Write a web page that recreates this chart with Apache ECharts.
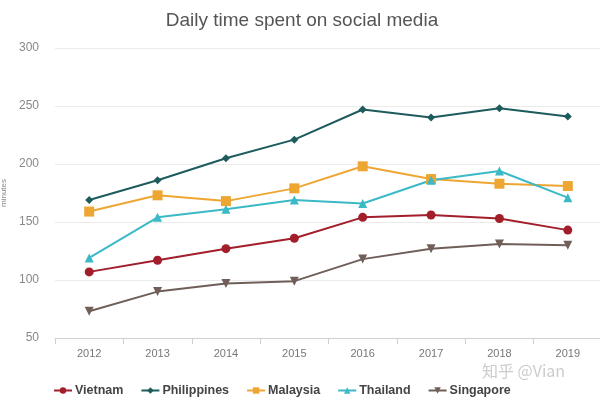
<!DOCTYPE html>
<html><head><meta charset="utf-8">
<script src="https://cdn.jsdelivr.net/npm/echarts@6/dist/echarts.min.js"></script>
<style>html,body{margin:0;padding:0;background:#fff}#c{width:600px;height:400px}</style>
</head><body><div id="c"></div>
<script>
var years = ['2012','2013','2014','2015','2016','2017','2018','2019'];
var vietnam     = [107,117,127,136,154,156,153,143];
var philippines = [169,186,205,221,247,240,248,241];
var malaysia    = [159,173,168,179,198,187,183,181];
var thailand    = [119,154,161,169,166,186,194,171];
var singapore   = [73,90,97,99,118,127,131,130];
var yTicks = [50,100,150,200,250,300];

var chart = echarts.init(document.getElementById('c'));
function mk(name, data, color, symbol, size, rotate){
  return {name:name, type:'line', data:data, symbol:symbol, symbolSize:size, symbolRotate:rotate||0,
    lineStyle:{color:color,width:2}, itemStyle:{color:color}, z:3};
}
chart.setOption({
  animation:false,
  title:{text:'Daily time spent on social media', left:297, top:6, textAlign:'center',
    textStyle:{fontFamily:'Liberation Sans, Arial', fontSize:19, fontWeight:'normal', color:'#555'}},
  grid:{left:55, top:48, width:547, bottom:62, containLabel:false, outerBoundsMode:'none'},
  legend:{top:379, left:48, itemGap:17, itemWidth:18, itemHeight:8,
    textStyle:{fontFamily:'Liberation Sans, Arial', fontSize:12.5, fontWeight:'bold', color:'#444', padding:[0,0,0,-2]},
    data:['Vietnam','Philippines','Malaysia','Thailand','Singapore']},
  xAxis:{type:'category', data:years, boundaryGap:true,
    axisLine:{lineStyle:{color:'#d0d0d0'}},
    axisTick:{show:true, length:6, lineStyle:{color:'#d0d0d0'}},
    axisLabel:{color:'#777', fontSize:11, fontFamily:'Liberation Sans, Arial', margin:10}},
  yAxis:{type:'value', min:yTicks[0], max:yTicks[yTicks.length-1], interval:50,
    name:'minutes', nameLocation:'middle', nameGap:46, nameRotate:90,
    nameTextStyle:{color:'#888', fontSize:8, fontFamily:'Liberation Sans, Arial'},
    axisLine:{show:false}, axisTick:{show:false},
    splitLine:{lineStyle:{color:'#ebebeb', width:1}},
    axisLabel:{color:'#888', fontSize:12, fontFamily:'Liberation Sans, Arial', margin:16}},
  graphic:[{type:'text', left:482, top:363, z:0,
    style:{text:'知乎 @Vian', font:'16px "Noto Sans CJK SC"', fill:'rgba(160,160,160,0.55)'}}],
  series:[
    mk('Vietnam', vietnam, '#a21e2a', 'circle', 9),
    mk('Philippines', philippines, '#1d5b5c', 'diamond', 8),
    mk('Malaysia', malaysia, '#eea633', 'rect', 10),
    mk('Thailand', thailand, '#3bb9c6', 'triangle', 9),
    mk('Singapore', singapore, '#6f5f58', 'triangle', 9, 180)
  ]
});
</script></body></html>
